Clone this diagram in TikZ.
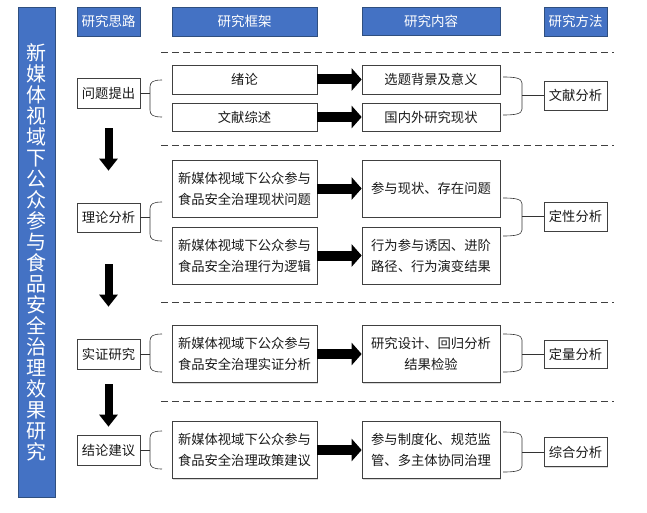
\documentclass[tikz,border=0pt]{standalone}
\usepackage{fontspec}
\setmainfont{Noto Sans CJK SC}
\usetikzlibrary{arrows.meta,shadows}
\definecolor{hblue}{HTML}{4472C4}
\definecolor{hedge}{HTML}{2F4F7F}
\begin{document}
\begin{tikzpicture}[x=1pt,y=-1pt,
  base/.style={draw=black!75, line width=0.7pt, inner sep=0pt,
    drop shadow={opacity=0.3,shadow xshift=1.3pt,shadow yshift=-1.3pt}},
  head/.style={base, fill=hblue, draw=hedge, text=white,
    font=\fontsize{13.5}{16}\selectfont, minimum height=29pt},
  box/.style={base, fill=white, text=black!90, align=center,
    font=\fontsize{13.3}{21}\selectfont},
  sbox/.style={box, minimum width=63pt, minimum height=30pt},
  fbox/.style={box, minimum width=145pt},
  cbox/.style={box, minimum width=138pt},
  hbar/.style={draw=black, line width=10pt, -{Triangle[length=10pt,width=22pt]}},
  vbar/.style={draw=black, line width=8pt, -{Triangle[length=12pt,width=18pt]}},
  sep/.style={draw=black!75, line width=0.7pt, dash pattern=on 7pt off 4pt},
  brace/.style={draw=black!80, line width=0.6pt}
]
\useasboundingbox (0,0) rectangle (647,513);

% title
\node[head, minimum width=37pt, minimum height=490pt, align=center,
  font=\fontsize{20}{21}\selectfont] (title) at (36.5,252)
  {新\\媒\\体\\视\\域\\下\\公\\众\\参\\与\\食\\品\\安\\全\\治\\理\\效\\果\\研\\究};

% headers
\node[head, minimum width=63pt] (h1) at (108.5,21.5) {研究思路};
\node[head, minimum width=145pt] (h2) at (244.5,21.5) {研究框架};
\node[head, minimum width=138pt, minimum height=28pt] (h3) at (431,21) {研究内容};
\node[head, minimum width=63pt] (h4) at (575.5,21.5) {研究方法};

% separators
\foreach \yy in {52,145,302,401}
  \draw[sep] (161,\yy) -- (614,\yy);

% row 1
\node[sbox] (s1) at (108.5,93) {问题提出};
\node[fbox, minimum height=29pt] (f1a) at (244.5,79.5) {绪论};
\node[fbox, minimum height=28pt] (f1b) at (244.5,117) {文献综述};
\node[cbox, minimum height=29pt] (c1a) at (431,79.5) {选题背景及意义};
\node[cbox, minimum height=28pt] (c1b) at (431,117) {国内外研究现状};
\node[sbox, minimum height=29pt] (m1) at (575.5,95.5) {文献分析};

% row 2
\node[sbox, minimum height=29pt] (s2) at (108.5,217.5) {理论分析};
\node[fbox, minimum height=57pt] (f2a) at (244.5,188.5) {新媒体视域下公众参与\\食品安全治理现状问题};
\node[fbox, minimum height=57pt] (f2b) at (244.5,255.5) {新媒体视域下公众参与\\食品安全治理行为逻辑};
\node[cbox, minimum height=57pt] (c2a) at (431,188.5) {参与现状、存在问题};
\node[cbox, minimum height=57pt] (c2b) at (431,255.5) {行为参与诱因、进阶\\路径、行为演变结果};
\node[sbox, minimum height=29pt] (m2) at (575.5,216.5) {定性分析};

% row 3
\node[sbox] (s3) at (108.5,354) {实证研究};
\node[fbox, minimum height=57pt] (f3) at (244.5,354) {新媒体视域下公众参与\\食品安全治理实证分析};
\node[cbox, minimum height=57pt] (c3) at (431,354) {研究设计、回归分析\\结果检验};
\node[sbox, minimum height=28pt] (m3) at (575.5,354) {定量分析};

% row 4
\node[sbox] (s4) at (108.5,450) {结论建议};
\node[fbox, minimum height=57pt] (f4) at (244.5,450) {新媒体视域下公众参与\\食品安全治理政策建议};
\node[cbox, minimum height=57pt] (c4) at (431,450) {参与制度化、规范监\\管、多主体协同治理};
\node[sbox, minimum height=29pt] (m4) at (575.5,452) {综合分析};

% horizontal block arrows
\foreach \a/\b in {f1a/c1a,f1b/c1b,f2a/c2a,f2b/c2b,f3/c3,f4/c4}
  \draw[hbar] (\a.east) -- (\b.west);

% vertical arrows
\draw[vbar, shorten <=20pt, shorten >=32pt] (s1.south) -- (s2.north);
\draw[vbar, shorten <=32pt, shorten >=32pt] (s2.south) -- (s3.north);
\draw[vbar, shorten <=15pt, shorten >=8pt] (s3.south) -- (s4.north);

% left braces
\foreach \n/\ya/\yb in {s1/80/117, s2/202/241, s3/334/372, s4/431/469}{
  \draw[brace] (\n.east) -- (\n.east -| 150,0);
  \draw[brace] (162,\ya) .. controls (153,\ya) and (150,\ya+2) .. (150,\ya+7)
    -- (150,\yb-7) .. controls (150,\yb-2) and (153,\yb) .. (162,\yb);
}
% right braces
\foreach \n/\ya/\yb in {m1/77/115, m2/198/236, m3/334/372, m4/432/472}{
  \draw[brace] (\n.west) -- (\n.west -| 522,0);
  \draw[brace] (503,\ya) .. controls (515,\ya) and (522,\ya+1) .. (522,\ya+6)
    -- (522,\yb-6) .. controls (522,\yb-1) and (515,\yb) .. (503,\yb);
}
\end{tikzpicture}
\end{document}
